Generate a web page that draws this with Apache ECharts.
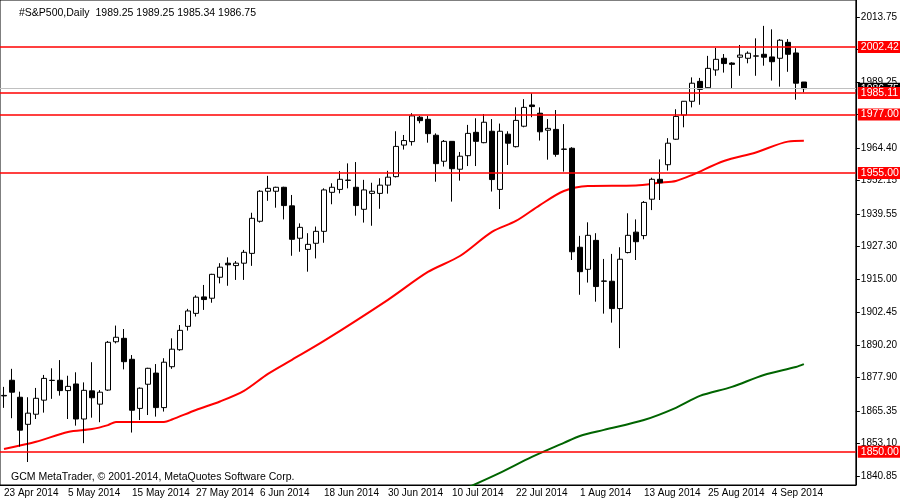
<!DOCTYPE html>
<html>
<head>
<meta charset="utf-8">
<script src="https://cdn.jsdelivr.net/npm/echarts@6/dist/echarts.min.js"></script>
<style>html,body{margin:0;padding:0;background:#fff}#chart{width:900px;height:500px}</style>
</head>
<body>
<div id="chart"></div>
<script>
// daily bars: [open, close, low, high]
const opens  = [1871.2,1876.9,1870.5,1860.3,1864.1,1869.4,1876.8,1876.9,1873.0,1875.5,1862.3,1872.9,1867.9,1873.2,1891.4,1892.7,1884.8,1866.3,1875.4,1879.6,
                1866.6,1882.0,1888.4,1897.2,1902.1,1908.3,1907.8,1915.7,1921.0,1920.1,1921.0,1924.7,1936.8,1948.1,1948.1,1949.6,1942.6,1930.4,1926.2,1928.5,
                1933.0,1947.7,1948.8,1952.3,1949.6,1941.3,1947.3,1947.3,1950.4,1953.6,1965.5,1966.8,1976.0,1975.2,1969.2,1959.4,1966.9,1956.4,1961.5,1970.3,
                1966.4,1970.7,1948.8,1969.6,1964.9,1972.6,1980.6,1977.5,1971.1,1971.4,1964.0,1964.3,1927.0,1918.7,1929.6,1914.3,1914.2,1903.9,1925.0,1932.7,
                1931.4,1945.1,1952.6,1958.1,1967.7,1976.8,1982.0,1989.5,1987.1,1993.8,1998.2,1996.4,1998.6,1998.2,1999.0,1999.7,1998.7,1998.2,2004.2,2000.2,
                1989.25];
const closes = [1871.0,1872.4,1858.1,1864.5,1870.1,1877.6,1876.9,1873.0,1874.6,1862.3,1873.1,1870.3,1872.4,1891.2,1893.1,1883.9,1865.6,1873.9,1881.4,1866.6,
                1883.7,1888.6,1895.7,1903.0,1908.2,1907.3,1916.8,1919.5,1920.4,1921.0,1925.1,1937.9,1948.1,1949.2,1949.6,1942.7,1930.0,1934.5,1928.1,1933.0,
                1948.6,1949.6,1952.6,1952.2,1942.7,1948.6,1948.1,1950.4,1953.4,1965.0,1967.2,1976.5,1974.7,1969.8,1958.5,1966.9,1956.6,1961.3,1969.9,1966.9,
                1974.1,1952.5,1970.7,1966.2,1974.8,1979.7,1980.0,1970.5,1971.8,1962.0,1963.9,1925.3,1917.8,1931.5,1912.2,1914.2,1903.9,1922.5,1931.5,1929.1,
                1943.9,1952.6,1951.3,1966.2,1976.3,1982.0,1988.8,1986.5,1994.4,1997.8,1996.2,1995.9,1999.4,2000.1,1999.1,1998.6,1996.9,2005.0,1999.7,1988.8,
                1986.75];
const lows   = [1866.5,1862.6,1851.9,1846.1,1862.3,1864.7,1869.9,1871.1,1862.3,1859.8,1853.2,1862.8,1861.1,1872.9,1890.8,1881.0,1857.2,1861.9,1863.8,1863.2,
                1865.1,1881.2,1888.0,1895.6,1900.9,1903.4,1906.1,1913.4,1912.5,1914.7,1914.7,1920.0,1936.3,1944.5,1941.9,1937.5,1923.8,1925.3,1917.8,1922.8,
                1928.7,1943.2,1947.3,1949.2,1938.9,1936.3,1935.1,1941.5,1947.2,1953.3,1963.8,1965.3,1973.7,1966.4,1951.7,1957.4,1944.2,1952.1,1957.6,1957.6,
                1966.2,1948.0,1941.4,1958.0,1964.6,1972.2,1976.0,1967.2,1960.0,1961.1,1955.5,1922.2,1909.1,1913.7,1906.5,1902.0,1898.6,1889.0,1924.7,1922.2,
                1930.0,1941.0,1944.8,1955.9,1967.5,1972.2,1979.7,1980.7,1986.9,1991.6,1992.8,1986.9,1991.6,1996.3,1991.6,1995.4,1989.8,1987.5,1993.1,1982.6,
                1985.34];
const highs  = [1874.4,1881.2,1872.6,1870.5,1874.0,1878.9,1881.4,1884.5,1878.6,1879.9,1876.1,1883.7,1873.2,1891.7,1897.5,1896.2,1886.4,1874.2,1881.6,1883.0,
                1885.2,1892.7,1897.7,1903.8,1908.9,1912.8,1917.0,1921.0,1923.2,1921.8,1926.0,1940.0,1948.5,1953.9,1949.8,1949.8,1946.7,1936.0,1932.3,1934.8,
                1949.2,1951.1,1955.7,1958.6,1959.1,1952.4,1951.3,1953.0,1955.8,1970.7,1969.3,1977.5,1976.5,1976.5,1969.9,1967.4,1966.9,1962.9,1973.1,1975.6,
                1977.2,1975.3,1973.6,1970.7,1979.7,1982.8,1985.0,1979.7,1975.3,1978.7,1973.4,1964.7,1931.3,1936.4,1932.3,1922.6,1924.5,1927.0,1939.8,1937.5,
                1944.4,1953.2,1960.1,1968.1,1979.0,1982.1,1991.0,1990.8,1999.1,2002.1,1999.8,1996.7,2003.2,2000.8,2005.7,2010.4,2009.1,2005.4,2005.4,2002.0,
                1989.25];

// moving averages, sampled at bar index
const maRed   = [[0,1851.0],[4,1853.7],[8,1857.4],[11,1858.5],[13,1860.0],[14,1861.2],[20,1861.2],[21,1862.1],[24,1865.7],[27,1868.9],
                 [30,1872.9],[33,1879.3],[36,1884.6],[40,1891.7],[48,1907.2],[53,1917.7],[57,1923.7],[61,1932.8],[64,1936.9],[67,1942.9],
                 [70,1948.2],[73,1950.1],[79,1950.3],[82,1951.3],[84,1952.0],[86,1954.2],[90,1959.5],[94,1962.7],[98,1966.8],[100,1967.1]];
const maGreen = [[58,1836.5],[62,1842.0],[66,1848.0],[70,1853.3],[72,1855.9],[75,1858.2],[80,1861.9],[84,1866.5],[87,1871.0],
                 [91,1874.4],[95,1878.9],[99,1881.9],[100,1883.0]];

const levels = [2002.42, 1985.11, 1977.00, 1955.00, 1850.00];
const lastPrice = 1986.75;
const priceTicks = [2013.75,2001.50,1989.25,1977.00,1964.40,1952.15,1939.55,1927.30,1915.00,1902.45,1890.20,1877.90,1865.35,1853.10,1840.85];

const firstDay = new Date(2014, 3, 23);
const padBars = 6;

const months = ['Jan','Feb','Mar','Apr','May','Jun','Jul','Aug','Sep','Oct','Nov','Dec'];
const dates = [];
let d = new Date(firstDay);
while (dates.length < opens.length) {
  if (d.getDay() !== 0 && d.getDay() !== 6) {
    dates.push(d.getDate() + ' ' + months[d.getMonth()] + ' ' + d.getFullYear());
  }
  d.setDate(d.getDate() + 1);
}
for (let i = 0; i < padBars; i++) dates.push('');

const ohlc = opens.map((o, i) => [o, closes[i], lows[i], highs[i]]);

const font = 'Liberation Sans';
const chart = echarts.init(document.getElementById('chart'));

const labelBase = { position: 'end', distance: 2, fontFamily: font, fontSize: 10.5, padding: [1, 3, 0, 3],
                    color: '#fff', formatter: p => p.value.toFixed(2) };

chart.setOption({
  animation: false,
  backgroundColor: '#fff',
  title: [
    { text: '#S&P500,Daily  1989.25 1989.25 1985.34 1986.75', left: 14, top: 3,
      textStyle: { fontFamily: font, fontSize: 10.5, fontWeight: 'normal', color: '#000' } },
    { text: 'GCM MetaTrader, \u00a9 2001-2014, MetaQuotes Software Corp.', left: 6, top: 467,
      textStyle: { fontFamily: font, fontSize: 10.5, fontWeight: 'normal', color: '#000' } }
  ],
  grid: { left: 0, top: 0, width: 856, height: 485, show: true, borderColor: '#000', borderWidth: 1 },
  xAxis: {
    type: 'category',
    data: dates,
    boundaryGap: true,
    axisLine: { lineStyle: { color: '#000' } },
    axisTick: { interval: 7, length: 4, lineStyle: { color: '#000' } },
    axisLabel: { interval: 7, align: 'left', margin: 3, fontFamily: font, fontSize: 10, color: '#000' },
    splitLine: { show: false }
  },
  yAxis: {
    type: 'value',
    position: 'right',
    min: 1837.44,
    max: 2020.15,
    axisLine: { show: true, lineStyle: { color: '#000' } },
    axisTick: { show: true, length: 4, lineStyle: { color: '#000' }, customValues: priceTicks },
    axisLabel: { fontFamily: font, fontSize: 10, color: '#000', margin: 5,
                 customValues: priceTicks, formatter: v => v.toFixed(2) },
    splitLine: { show: false }
  },
  series: [
    {
      type: 'candlestick',
      data: ohlc,
      barWidth: 5,
      itemStyle: { color: '#fff', color0: '#000', borderColor: '#000', borderColor0: '#000', borderWidth: 1 },
      markLine: {
        symbol: 'none', silent: true, animation: false,
        data: [{ yAxis: lastPrice }],
        lineStyle: { color: '#c0c0c0', type: 'solid', width: 1 },
        label: Object.assign({ backgroundColor: '#000' }, labelBase)
      }
    },
    { type: 'line', name: 'levels', data: [], color: '#ff0000',
      markLine: {
        symbol: 'none', silent: true, animation: false,
        data: levels.map(v => ({ yAxis: v })),
        lineStyle: { color: '#ff0000', type: 'solid', width: 1.5 },
        label: Object.assign({ backgroundColor: '#ff0000' }, labelBase)
      }
    },
    { type: 'line', data: maRed, showSymbol: false, smooth: 0.3, clip: true,
      lineStyle: { color: '#ff0000', width: 2 }, z: 1 },
    { type: 'line', data: maGreen, showSymbol: false, smooth: 0.3, clip: true,
      lineStyle: { color: '#006400', width: 2 }, z: 1 }
  ]
});
</script>
</body>
</html>
